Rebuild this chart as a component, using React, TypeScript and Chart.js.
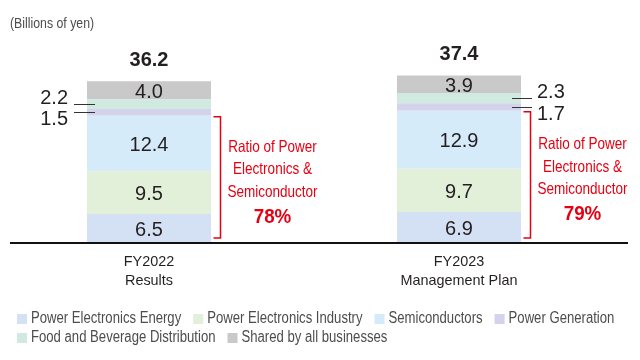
import React, { useEffect, useRef } from "react";
import { Chart, registerables } from "chart.js";

Chart.register(...registerables);

// ---- data ----
const categories = [["FY2022", "Results"], ["FY2023", "Management Plan"]];
const powerElectronicsEnergy = [6.5, 6.9];
const powerElectronicsIndustry = [9.5, 9.7];
const semiconductors = [12.4, 12.9];
const powerGeneration = [1.5, 1.7];
const foodBeverage = [2.2, 2.3];
const sharedAll = [4.0, 3.9];
const totals = [36.2, 37.4];
const ratios = ["78%", "79%"];
const ratioLines = ["Ratio of Power", "Electronics &", "Semiconductor"];
const unitLabel = "(Billions of yen)";
const seriesNames = [
  "Power Electronics Energy",
  "Power Electronics Industry",
  "Semiconductors",
  "Power Generation",
  "Food and Beverage Distribution",
  "Shared by all businesses",
];
const seriesColors = ["#d4e1f4", "#e2efd9", "#d5ebfa", "#d4d3ec", "#d0eadf", "#c9c9c9"];

// ---- styles ----
const SHIFT = 6; // canvas sits 6px left of the page origin
const SANS = "'Liberation Sans', Arial, Helvetica, sans-serif";
const NARROW_SCALE = 0.82;
const DARK = "#231f20";
const RED = "#e60012";
const GREY_TEXT = "#4d4d4d";

const fmt = (v: number) => v.toFixed(1);

function narrowText(
  ctx: CanvasRenderingContext2D,
  text: string,
  x: number,
  y: number,
  sx: number = NARROW_SCALE
) {
  ctx.save();
  ctx.translate(x, y);
  ctx.scale(sx, 1);
  ctx.fillText(text, 0, 0);
  ctx.restore();
}

const overlay = {
  id: "overlay",
  afterDatasetsDraw(chart: any) {
    const ctx = chart.ctx as CanvasRenderingContext2D;
    const yScale = chart.scales.y;
    const base = yScale.getPixelForValue(0);
    ctx.save();

    // unit label
    ctx.font = `15px ${SANS}`;
    ctx.fillStyle = GREY_TEXT;
    ctx.textAlign = "left";
    ctx.textBaseline = "middle";
    narrowText(ctx, unitLabel, 10 + SHIFT, 24);

    // baseline axis
    ctx.strokeStyle = "#111";
    ctx.lineWidth = 2;
    ctx.beginPath();
    ctx.moveTo(10 + SHIFT, base);
    ctx.lineTo(628 + SHIFT, base);
    ctx.stroke();

    const metas = chart.data.datasets.map((_: any, i: number) => chart.getDatasetMeta(i));
    const nCat = chart.data.labels.length;
    for (let c = 0; c < nCat; c++) {
      const bar0 = metas[0].data[c];
      const cx = bar0.x;
      const half = bar0.width / 2;
      const left = cx - half;
      const right = cx + half;

      // inside labels
      ctx.font = `20px ${SANS}`;
      ctx.fillStyle = DARK;
      ctx.textAlign = "center";
      ctx.textBaseline = "middle";
      [0, 1, 2, 5].forEach((d) => {
        const el = metas[d].data[c];
        const v = chart.data.datasets[d].data[c];
        ctx.fillText(fmt(v), cx, (el.y + el.base) / 2 + 2);
      });

      // leader labels for small segments
      ctx.strokeStyle = "#333";
      ctx.lineWidth = 1;
      [4, 3].forEach((d, k) => {
        const el = metas[d].data[c];
        const v = chart.data.datasets[d].data[c];
        const ly = Math.round((el.y + el.base) / 2) + 0.5;
        ctx.beginPath();
        if (c === 0) {
          ctx.moveTo(left - 13, ly);
          ctx.lineTo(left + 8, ly);
        } else {
          ctx.moveTo(right - 9, ly);
          ctx.lineTo(right + 11, ly);
        }
        ctx.stroke();
        ctx.textAlign = c === 0 ? "right" : "left";
        const tx = c === 0 ? left - 19 : right + 16;
        const ty = k === 0 ? ly - 6.5 : ly + 7;
        ctx.fillText(fmt(v), tx, ty);
      });

      // total
      const topEl = metas[metas.length - 1].data[c];
      ctx.font = `bold 20px ${SANS}`;
      ctx.textAlign = "center";
      ctx.fillText(fmt(totals[c]), cx, topEl.y - 21);

      // bracket
      const semi = metas[2].data[c];
      const bx = right + 9.5;
      const bTop = semi.y + 1;
      const bBot = base - 5;
      ctx.strokeStyle = RED;
      ctx.lineWidth = 1.5;
      ctx.beginPath();
      ctx.moveTo(bx - 7, bTop);
      ctx.lineTo(bx, bTop);
      ctx.lineTo(bx, bBot);
      ctx.lineTo(bx - 7, bBot);
      ctx.stroke();

      const tcx = bx + 52;
      const tcy = (bTop + bBot) / 2;
      ctx.fillStyle = RED;
      ctx.font = `16.5px ${SANS}`;
      ctx.textAlign = "center";
      ratioLines.forEach((t, i) => narrowText(ctx, t, tcx, tcy - 30 + i * 22.5));
      ctx.font = `bold 20px ${SANS}`;
      narrowText(ctx, ratios[c], tcx, tcy + 40, 0.94);

      // category labels
      ctx.fillStyle = DARK;
      ctx.font = `15px ${SANS}`;
      const lab = chart.data.labels[c] as string[];
      lab.forEach((t, i) => narrowText(ctx, t, cx, 262 + i * 18.5, 0.96));
    }

    // legend
    ctx.font = `16px ${SANS}`;
    ctx.textAlign = "left";
    ctx.textBaseline = "middle";
    let x = 17;
    let row = 0;
    const rowY = [319, 338];
    chart.data.datasets.forEach((ds: any) => {
      const w = ctx.measureText(ds.label).width * NARROW_SCALE;
      if (x + 14 + w > 632) {
        x = 17;
        row++;
      }
      const y = rowY[Math.min(row, rowY.length - 1)];
      ctx.fillStyle = ds.backgroundColor;
      ctx.fillRect(x + SHIFT, y - 5, 10, 10);
      ctx.fillStyle = GREY_TEXT;
      narrowText(ctx, ds.label, x + 14 + SHIFT, y);
      x += 14 + w + 12;
    });

    ctx.restore();
  },
};

export default function App() {
  const ref = useRef<HTMLCanvasElement>(null);
  useEffect(() => {
    if (!ref.current) return;
    const series = [
      powerElectronicsEnergy,
      powerElectronicsIndustry,
      semiconductors,
      powerGeneration,
      foodBeverage,
      sharedAll,
    ];
    const chart = new Chart(ref.current, {
      type: "bar",
      data: {
        labels: categories,
        datasets: series.map((d, i) => ({
          label: seriesNames[i],
          data: d,
          backgroundColor: seriesColors[i],
          borderWidth: 0,
          categoryPercentage: 0.4,
          barPercentage: 1,
        })),
      },
      options: {
        responsive: false,
        animation: false,
        layout: { padding: { left: 0, right: 26, top: 19, bottom: 117 } },
        plugins: { legend: { display: false }, tooltip: { enabled: false }, title: { display: false } },
        scales: {
          x: { stacked: true, display: false },
          y: { stacked: true, display: false, min: 0, max: 50 },
        },
      },
      plugins: [overlay],
    });
    return () => chart.destroy();
  }, []);
  return (
    <canvas
      ref={ref}
      width={646}
      height={360}
      style={{ position: "absolute", left: -SHIFT, top: 0, width: 646, height: 360 }}
    />
  );
}
